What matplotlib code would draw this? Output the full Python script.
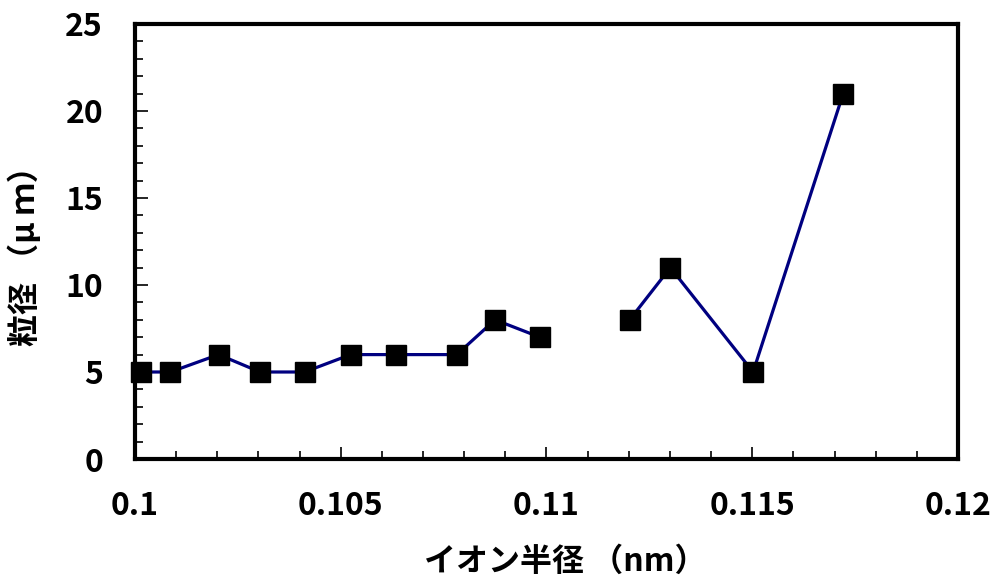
import numpy as np
import matplotlib
matplotlib.use('Agg')
import matplotlib.pyplot as plt
from matplotlib.ticker import MultipleLocator

plt.rcParams['font.family'] = ['Noto Sans CJK JP', 'DejaVu Sans']
plt.rcParams['font.weight'] = 'bold'

# ionic radius (nm) vs particle size (um); gap in the line between 0.1098 and 0.1120
ion_radius = [0.10014, 0.10086, 0.10203, 0.10304, 0.10412, 0.10524, 0.10634, 0.10782,
              0.10875, 0.10984, np.nan, 0.11202, 0.11301, 0.11502, 0.11721]
particle_size = [5, 5, 6, 5, 5, 6, 6, 6, 8, 7, np.nan, 8, 11, 5, 21]
x_ticks = [0.1, 0.105, 0.11, 0.115, 0.12]
x_ticklabels = ['0.1', '0.105', '0.11', '0.115', '0.12']

fig = plt.figure(figsize=(9.95, 5.8), dpi=100)
ax = fig.add_axes([135 / 995, 1 - 459 / 580, (958 - 135) / 995, (459 - 24) / 580])

ax.plot(ion_radius, particle_size, color='#000080', lw=2.3,
        marker='s', markersize=14, markerfacecolor='black', markeredgecolor='black',
        clip_on=False, zorder=3)

ax.set_xlim(0.1, 0.12)
ax.set_ylim(0, 25)
ax.xaxis.set_minor_locator(MultipleLocator(0.001))
ax.yaxis.set_major_locator(MultipleLocator(5))
ax.yaxis.set_minor_locator(MultipleLocator(1))
ax.set_xticks(x_ticks)
ax.set_xticklabels(x_ticklabels)

ax.tick_params(axis='both', which='both', direction='in', top=False, right=False)
ax.tick_params(which='major', length=9, width=1.2, labelsize=23)
ax.tick_params(which='minor', length=6, width=1.2)
ax.tick_params(axis='x', which='major', pad=22)
ax.tick_params(axis='y', which='major', pad=23)
for lbl in ax.get_xticklabels() + ax.get_yticklabels():
    lbl.set_fontweight('bold')

for s in ax.spines.values():
    s.set_linewidth(3)

ax.set_xlabel('イオン半径 （nm）', fontsize=23, fontweight='bold')
ax.set_ylabel('粒径 （μ ｍ）', fontsize=23, fontweight='bold')
ax.xaxis.set_label_coords(0.523, -0.2)
ax.yaxis.set_label_coords(-0.113, 0.485)

fig.savefig('out.png', dpi=100)
